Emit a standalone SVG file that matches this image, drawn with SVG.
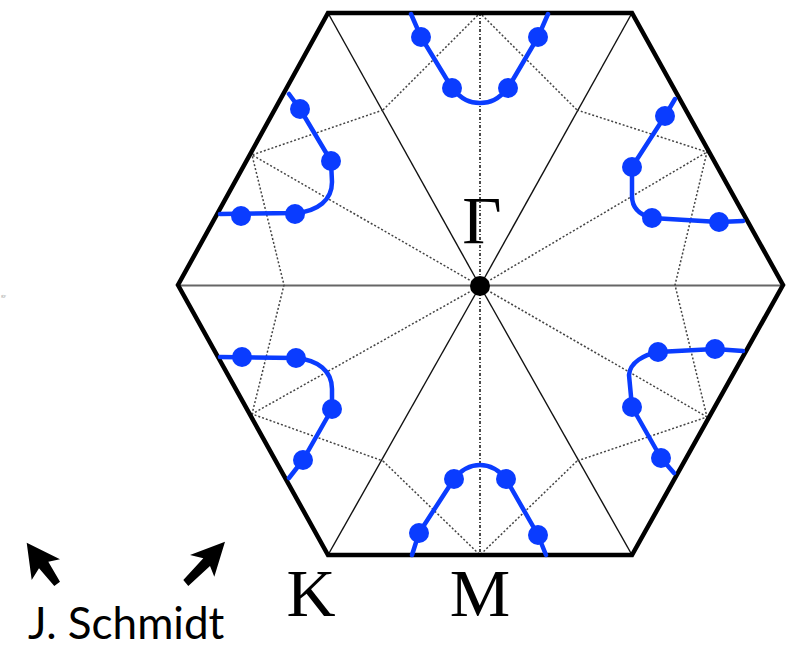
<svg xmlns="http://www.w3.org/2000/svg" width="786" height="648" viewBox="0 0 786 648">
<style>
.gk{stroke:#111;stroke-width:1.4;fill:none}
.gkh{stroke:#666;stroke-width:2;fill:none}
.dot{stroke:#444;stroke-width:1.5;stroke-dasharray:2 2;fill:none}
.dotv{stroke:#111;stroke-width:1.5;stroke-dasharray:3 2 1 2;fill:none}
.band{stroke:#0a3cff;stroke-width:4.5;fill:none;stroke-linejoin:round;stroke-linecap:round}
.pt{fill:#0a3cff}
.lbl{font-family:"Liberation Serif","Times New Roman",serif;font-size:68px;fill:#000}
.auth{font-family:Lato,"Liberation Sans",sans-serif;font-size:44px;fill:#000}
</style>
<rect width="786" height="648" fill="#fff"/>
<text x="1" y="297" font-family="Liberation Serif,serif" font-size="5" fill="#999">gy</text>
<g id="connectors">
<line class="gkh" x1="178" y1="285.5" x2="783" y2="285.5"/>
<line class="gk" x1="480" y1="286" x2="328" y2="13"/>
<line class="gk" x1="480" y1="286" x2="632" y2="13"/>
<line class="gk" x1="480" y1="286" x2="632" y2="555"/>
<line class="gk" x1="480" y1="286" x2="328" y2="555"/>
<line class="dotv" x1="480" y1="13" x2="480" y2="555"/>
<line class="dot" x1="480" y1="286" x2="252" y2="155"/>
<line class="dot" x1="480" y1="286" x2="252" y2="414"/>
<line class="dot" x1="480" y1="286" x2="707" y2="152"/>
<line class="dot" x1="480" y1="286" x2="707" y2="417"/>
<polyline class="dot" points="383,110 480,13 577,110"/>
<polyline class="dot" points="383,461 480,555 577,461"/>
<polyline class="dot" points="383,110 252,155 284,285 252,414 383,461"/>
<polyline class="dot" points="577,110 707,152 675,285 707,417 577,461"/>
</g>
<g id="hexagon">
<polygon points="328,13 632,13 783,285 632,555 328,555 178,285" fill="none" stroke="#000" stroke-width="4.5" stroke-linejoin="miter"/>
</g>
<g id="band-top">
<path class="band" d="M411,14 L421,37 L452,88 C462,100 470,103 480,103 C490,103 498,100 508,88 L538,37 L548,14"/>
<circle class="pt" cx="421" cy="37" r="10"/><circle class="pt" cx="452" cy="88" r="10"/><circle class="pt" cx="508" cy="88" r="10"/><circle class="pt" cx="538" cy="37" r="10"/>
</g>
<g id="band-bottom">
<path class="band" d="M412,555 L419,533 L454,479 C462,469 470,465 480,465 C490,465 498,469 506,479 L538,535 L546,555"/>
<circle class="pt" cx="419" cy="533" r="10"/><circle class="pt" cx="454" cy="479" r="10"/><circle class="pt" cx="506" cy="479" r="10"/><circle class="pt" cx="538" cy="535" r="10"/>
</g>
<g id="band-upper-left">
<path class="band" d="M220,214 L296,213 C318,211 332,200 332,182 L331,161 L300,109 L289,94"/>
<circle class="pt" cx="241" cy="216" r="10"/><circle class="pt" cx="295" cy="214" r="10"/><circle class="pt" cx="331" cy="161" r="10"/><circle class="pt" cx="300" cy="109" r="10"/>
</g>
<g id="band-lower-left">
<path class="band" d="M220,357 L296,358 C318,360 332,371 332,389 L332,409 L303,460 L289,478"/>
<circle class="pt" cx="242" cy="357" r="10"/><circle class="pt" cx="296" cy="358" r="10"/><circle class="pt" cx="332" cy="409" r="10"/><circle class="pt" cx="303" cy="460" r="10"/>
</g>
<g id="band-upper-right">
<path class="band" d="M743,221 L719,222 L652,218 C640,215 632,208 632,196 L632,167 L665,116 L675,99"/>
<circle class="pt" cx="719" cy="222" r="10"/><circle class="pt" cx="652" cy="218" r="10"/><circle class="pt" cx="632" cy="167" r="10"/><circle class="pt" cx="665" cy="116" r="10"/>
</g>
<g id="band-lower-right">
<path class="band" d="M743,351 L715,349 L658,352 C644,355 630,362 629,375 L632,407 L661,458 L674,473"/>
<circle class="pt" cx="715" cy="349" r="10"/><circle class="pt" cx="658" cy="352" r="10"/><circle class="pt" cx="632" cy="407" r="10"/><circle class="pt" cx="661" cy="458" r="10"/>
</g>
<g id="gamma">
<circle cx="480" cy="286" r="10" fill="#000"/>
<text class="lbl" x="482" y="243" text-anchor="middle">Γ</text>
</g>
<g id="label-K"><text class="lbl" x="311" y="616" text-anchor="middle">K</text></g>
<g id="label-M"><text class="lbl" x="480" y="616" text-anchor="middle">M</text></g>
<g id="arrows">
<polygon points="26.7,542.7 60,559.3 48.3,561.7 60,581.7 54.3,586 39,568.3 31.7,580" fill="#000"/>
<polygon points="225,541.7 214.3,576.7 210,566 188.3,586 183.3,580 203.3,558.3 190,555" fill="#000"/>
</g>
<g id="author"><text class="auth" x="28" y="639">J. Schmidt</text></g>
</svg>
